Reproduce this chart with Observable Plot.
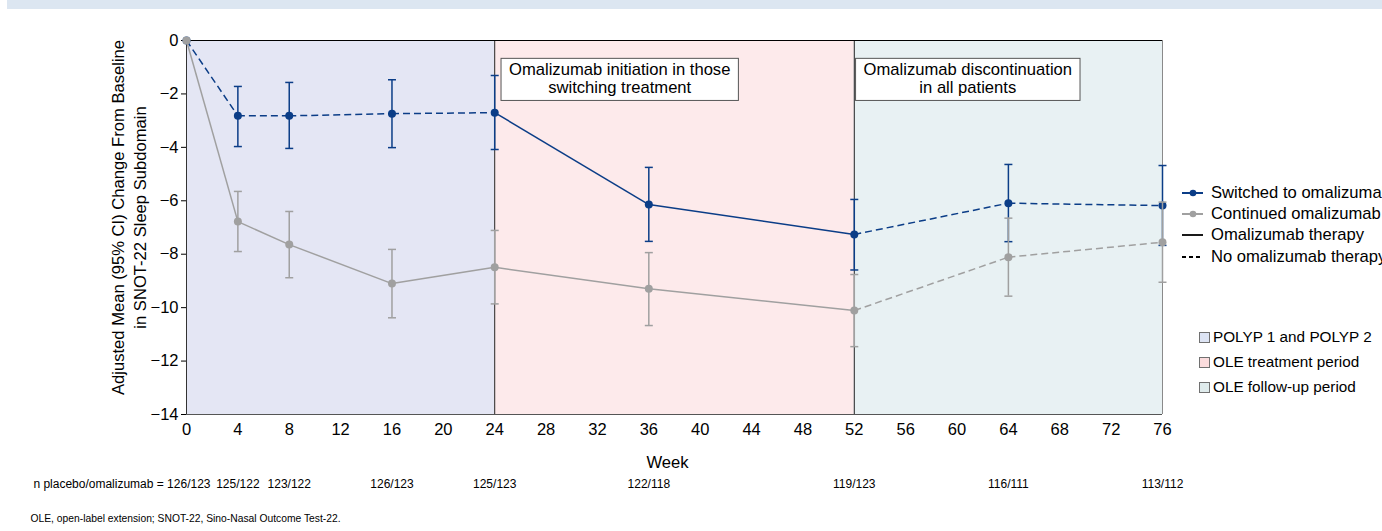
<!DOCTYPE html>
<html>
<head>
<meta charset="utf-8">
<script src="https://cdn.jsdelivr.net/npm/d3@7"></script>
<script src="https://cdn.jsdelivr.net/npm/@observablehq/plot@0.6"></script>
<style>
html, body { margin: 0; padding: 0; overflow: hidden; background: #fff; }
body { width: 1382px; height: 531px; position: relative; font-family: "Liberation Sans", Arial, sans-serif; }
#band { position: absolute; left: 7px; top: 0; right: 0; height: 9px; background: #dce6f1; }
#chart { position: absolute; left: 0; top: 0; }
.leg { position: absolute; display: flex; align-items: center; height: 20px; color: #000; white-space: nowrap; }
.leg svg { flex: none; }
</style>
</head>
<body>
<div id="band"></div>
<div id="chart"></div>
<div id="legend"></div>
<script>
// ---- data ----
const weeks = [0, 4, 8, 16, 24, 36, 52, 64, 76];
const switchedMean = [0, -2.82, -2.82, -2.74, -2.70, -6.14, -7.26, -6.09, -6.18];
const switchedLo   = [null, -3.97, -4.04, -4.01, -4.08, -7.52, -8.59, -7.53, -7.67];
const switchedHi   = [null, -1.72, -1.57, -1.47, -1.31, -4.75, -5.95, -4.64, -4.68];
const continuedMean = [0, -6.78, -7.64, -9.10, -8.49, -9.29, -10.11, -8.11, -7.55];
const continuedLo   = [null, -7.90, -8.88, -10.38, -9.86, -10.67, -11.46, -9.57, -9.05];
const continuedHi   = [null, -5.65, -6.40, -7.82, -7.11, -7.94, -8.76, -6.65, -6.05];
const nLabels = ["126/123", "125/122", "123/122", "126/123", "125/123", "122/118", "119/123", "116/111", "113/112"];
const nPrefix = "n placebo/omalizumab = ";
const seriesNames = ["Switched to omalizumab", "Continued omalizumab"];
const seriesColors = ["#0b3d87", "#a0a0a0"];
// omalizumab therapy windows (weeks) for each series
const therapyStart = [24, 0];
const therapyEnd = [52, 52];
const periodStart = [0, 24, 52];
const periodEnd = [24, 52, 76];
const periodNames = ["POLYP 1 and POLYP 2", "OLE treatment period", "OLE follow-up period"];
const periodFill = ["#e4e6f4", "#fdeaeb", "#e8f1f3"];
const periodSwatch = ["#dde4f4", "#fbdcdd", "#dfebec"];
const xTicks = d3.range(0, 77, 4);
const yTicks = d3.range(-14, 1, 2);
const annotations = [
  {week: 24, text: "Omalizumab initiation in those\nswitching treatment", shift: 125},
  {week: 52, text: "Omalizumab discontinuation\nin all patients", shift: 113.5}
];
const yLabel = "Adjusted Mean (95% CI) Change From Baseline\nin SNOT-22 Sleep Subdomain";
const xLabel = "Week";
const footnote = "OLE, open-label extension; SNOT-22, Sino-Nasal Outcome Test-22.";
const lineLegend = ["Omalizumab therapy", "No omalizumab therapy"];

// ---- build tables ----
const means = [switchedMean, continuedMean];
const los = [switchedLo, continuedLo];
const his = [switchedHi, continuedHi];
const pts = [], segs = [];
[0, 1].forEach(s => {
  weeks.forEach((w, i) => pts.push({s, week: w, mean: means[s][i], lo: los[s][i], hi: his[s][i]}));
  for (let i = 0; i < weeks.length - 1; i++) {
    segs.push({s, x1: weeks[i], y1: means[s][i], x2: weeks[i + 1], y2: means[s][i + 1],
      on: weeks[i] >= therapyStart[s] && weeks[i + 1] <= therapyEnd[s]});
  }
});
const periods = periodStart.map((a, i) => ({start: a, end: periodEnd[i], fill: periodFill[i]}));
const nData = weeks.map((w, i) => ({week: w, label: i === 0 ? nPrefix + nLabels[i] : nLabels[i]}));

const cap = {draw(context, size) { const w = Math.sqrt(size / Math.PI); context.moveTo(-w, 0); context.lineTo(w, 0); }};

function seriesMarks(s) {
  const c = seriesColors[s];
  const P = pts.filter(d => d.s === s);
  const E = P.filter(d => d.lo != null);
  return [
    Plot.link(segs.filter(d => d.s === s && d.on), {x1: "x1", y1: "y1", x2: "x2", y2: "y2", stroke: c, strokeWidth: 1.5}),
    Plot.link(segs.filter(d => d.s === s && !d.on), {x1: "x1", y1: "y1", x2: "x2", y2: "y2", stroke: c, strokeWidth: 1.5, strokeDasharray: "7,4"}),
    Plot.ruleX(E, {x: "week", y1: "lo", y2: "hi", stroke: c, strokeWidth: 1.5}),
    Plot.dot(E, {x: "week", y: "lo", symbol: cap, r: 4, stroke: c, strokeWidth: 1.5, fill: "none"}),
    Plot.dot(E, {x: "week", y: "hi", symbol: cap, r: 4, stroke: c, strokeWidth: 1.5, fill: "none"}),
    Plot.dot(P, {x: "week", y: "mean", r: 4, fill: c, stroke: "none"})
  ];
}

const narrow = "'Liberation Sans Narrow', 'Arial Narrow', 'Liberation Sans', sans-serif";
const big = 16.6;

const chart = Plot.plot({
  width: 1382, height: 531,
  marginLeft: 186, marginRight: 220, marginTop: 40, marginBottom: 117,
  style: {fontFamily: "'Liberation Sans', Arial, sans-serif", fontSize: "16.5px", color: "#000", background: "transparent", overflow: "visible"},
  x: {domain: [0, 76], ticks: xTicks, tickSize: 0, tickPadding: 9, label: null},
  y: {domain: [-14, 0], ticks: yTicks, tickSize: 5, tickPadding: 3, label: null},
  marks: [
    ...periods.map(p => Plot.rect([p], {x1: "start", x2: "end", y1: -14, y2: 0, fill: p.fill})),
    Plot.ruleX([76], {stroke: "#8a8a8a", strokeWidth: 1}),
    Plot.ruleX([24, 52], {stroke: "#222", strokeWidth: 1}),
    Plot.ruleX([0], {stroke: "#333", strokeWidth: 1}),
    Plot.ruleY([-14], {stroke: "#555", strokeWidth: 1}),
    Plot.ruleY([0], {stroke: "#000", strokeWidth: 1.2}),
    ...seriesMarks(0),
    ...seriesMarks(1),
    Plot.text(annotations, {x: "week", text: "text", frameAnchor: "top", dy: 22, lineAnchor: "top", textAnchor: "middle", fontSize: big, lineHeight: 1.09}),
    Plot.text([yLabel], {text: d => d, frameAnchor: "left", rotate: -90, dx: -59, dy: -10, textAnchor: "middle", lineAnchor: "middle", fontSize: big, lineHeight: 1.33}),
    Plot.text([xLabel], {text: d => d, frameAnchor: "bottom", dx: -7, dy: 53, fontSize: big}),
    Plot.text(nData.slice(0, 1), {x: "week", text: "label", frameAnchor: "bottom", dy: 73, dx: 24, textAnchor: "end", fontSize: 12, fontFamily: narrow}),
    Plot.text(nData.slice(1), {x: "week", text: "label", frameAnchor: "bottom", dy: 73, fontSize: 12, fontFamily: narrow}),
    Plot.text([footnote], {text: d => d, frameAnchor: "bottom-left", dx: -156, dy: 107, textAnchor: "start", fontSize: 10.3})
  ]
});
document.getElementById("chart").appendChild(chart);

// annotation boxes: shift each annotation sideways, then draw a box behind it
d3.select(chart).selectAll("text").each(function () {
  const t = this.textContent;
  const a = annotations.find(a => a.text.replace("\n", "") === t);
  if (!a) return;
  const tr = this.getAttribute("transform") || "";
  const m = /translate\(([-\d.]+),([-\d.]+)\)/.exec(tr);
  if (m) this.setAttribute("transform", `translate(${+m[1] + a.shift},${m[2]})`);
  else this.setAttribute("x", (+this.getAttribute("x") || 0) + a.shift);
  const b = this.getBBox();
  const rect = document.createElementNS("http://www.w3.org/2000/svg", "rect");
  rect.setAttribute("x", b.x - 8);
  rect.setAttribute("y", b.y - 2);
  rect.setAttribute("width", b.width + 16);
  rect.setAttribute("height", b.height + 5);
  rect.setAttribute("fill", "#fff");
  rect.setAttribute("stroke", "#555");
  rect.setAttribute("stroke-width", "1");
  if (this.getAttribute("transform")) rect.setAttribute("transform", this.getAttribute("transform"));
  this.parentNode.insertBefore(rect, this);
});

// legends
const legend = document.getElementById("legend");
const rowsY = [193, 214, 235, 257];
const legendRows = [
  {label: seriesNames[0], color: seriesColors[0], dash: null, dot: true},
  {label: seriesNames[1], color: seriesColors[1], dash: null, dot: true},
  {label: lineLegend[0], color: "#000", dash: null, dot: false},
  {label: lineLegend[1], color: "#000", dash: "4,3", dot: false}
];
legendRows.forEach((r, i) => {
  const div = document.createElement("div");
  div.className = "leg";
  div.style.left = "1182px";
  div.style.top = (rowsY[i] - 10) + "px";
  div.style.fontSize = "16.6px";
  div.innerHTML = `<svg width="29" height="20"><line x1="0" y1="10" x2="21" y2="10" stroke="${r.color}" stroke-width="${r.dot ? 2 : 1.8}" ${r.dash ? `stroke-dasharray="${r.dash}"` : ""}/>${r.dot ? `<circle cx="11" cy="10" r="3.3" fill="${r.color}"/>` : ""}</svg><span>${r.label}</span>`;
  legend.appendChild(div);
});
const boxY = [337, 362, 387];
periodNames.forEach((n, i) => {
  const div = document.createElement("div");
  div.className = "leg";
  div.style.left = "1199px";
  div.style.top = (boxY[i] - 10) + "px";
  div.style.fontSize = "15.3px";
  div.innerHTML = `<svg width="14" height="20"><rect x="0.5" y="5.5" width="10" height="10" fill="${periodSwatch[i]}" stroke="#707070" stroke-width="1"/></svg><span>${n}</span>`;
  legend.appendChild(div);
});
</script>
</body>
</html>
